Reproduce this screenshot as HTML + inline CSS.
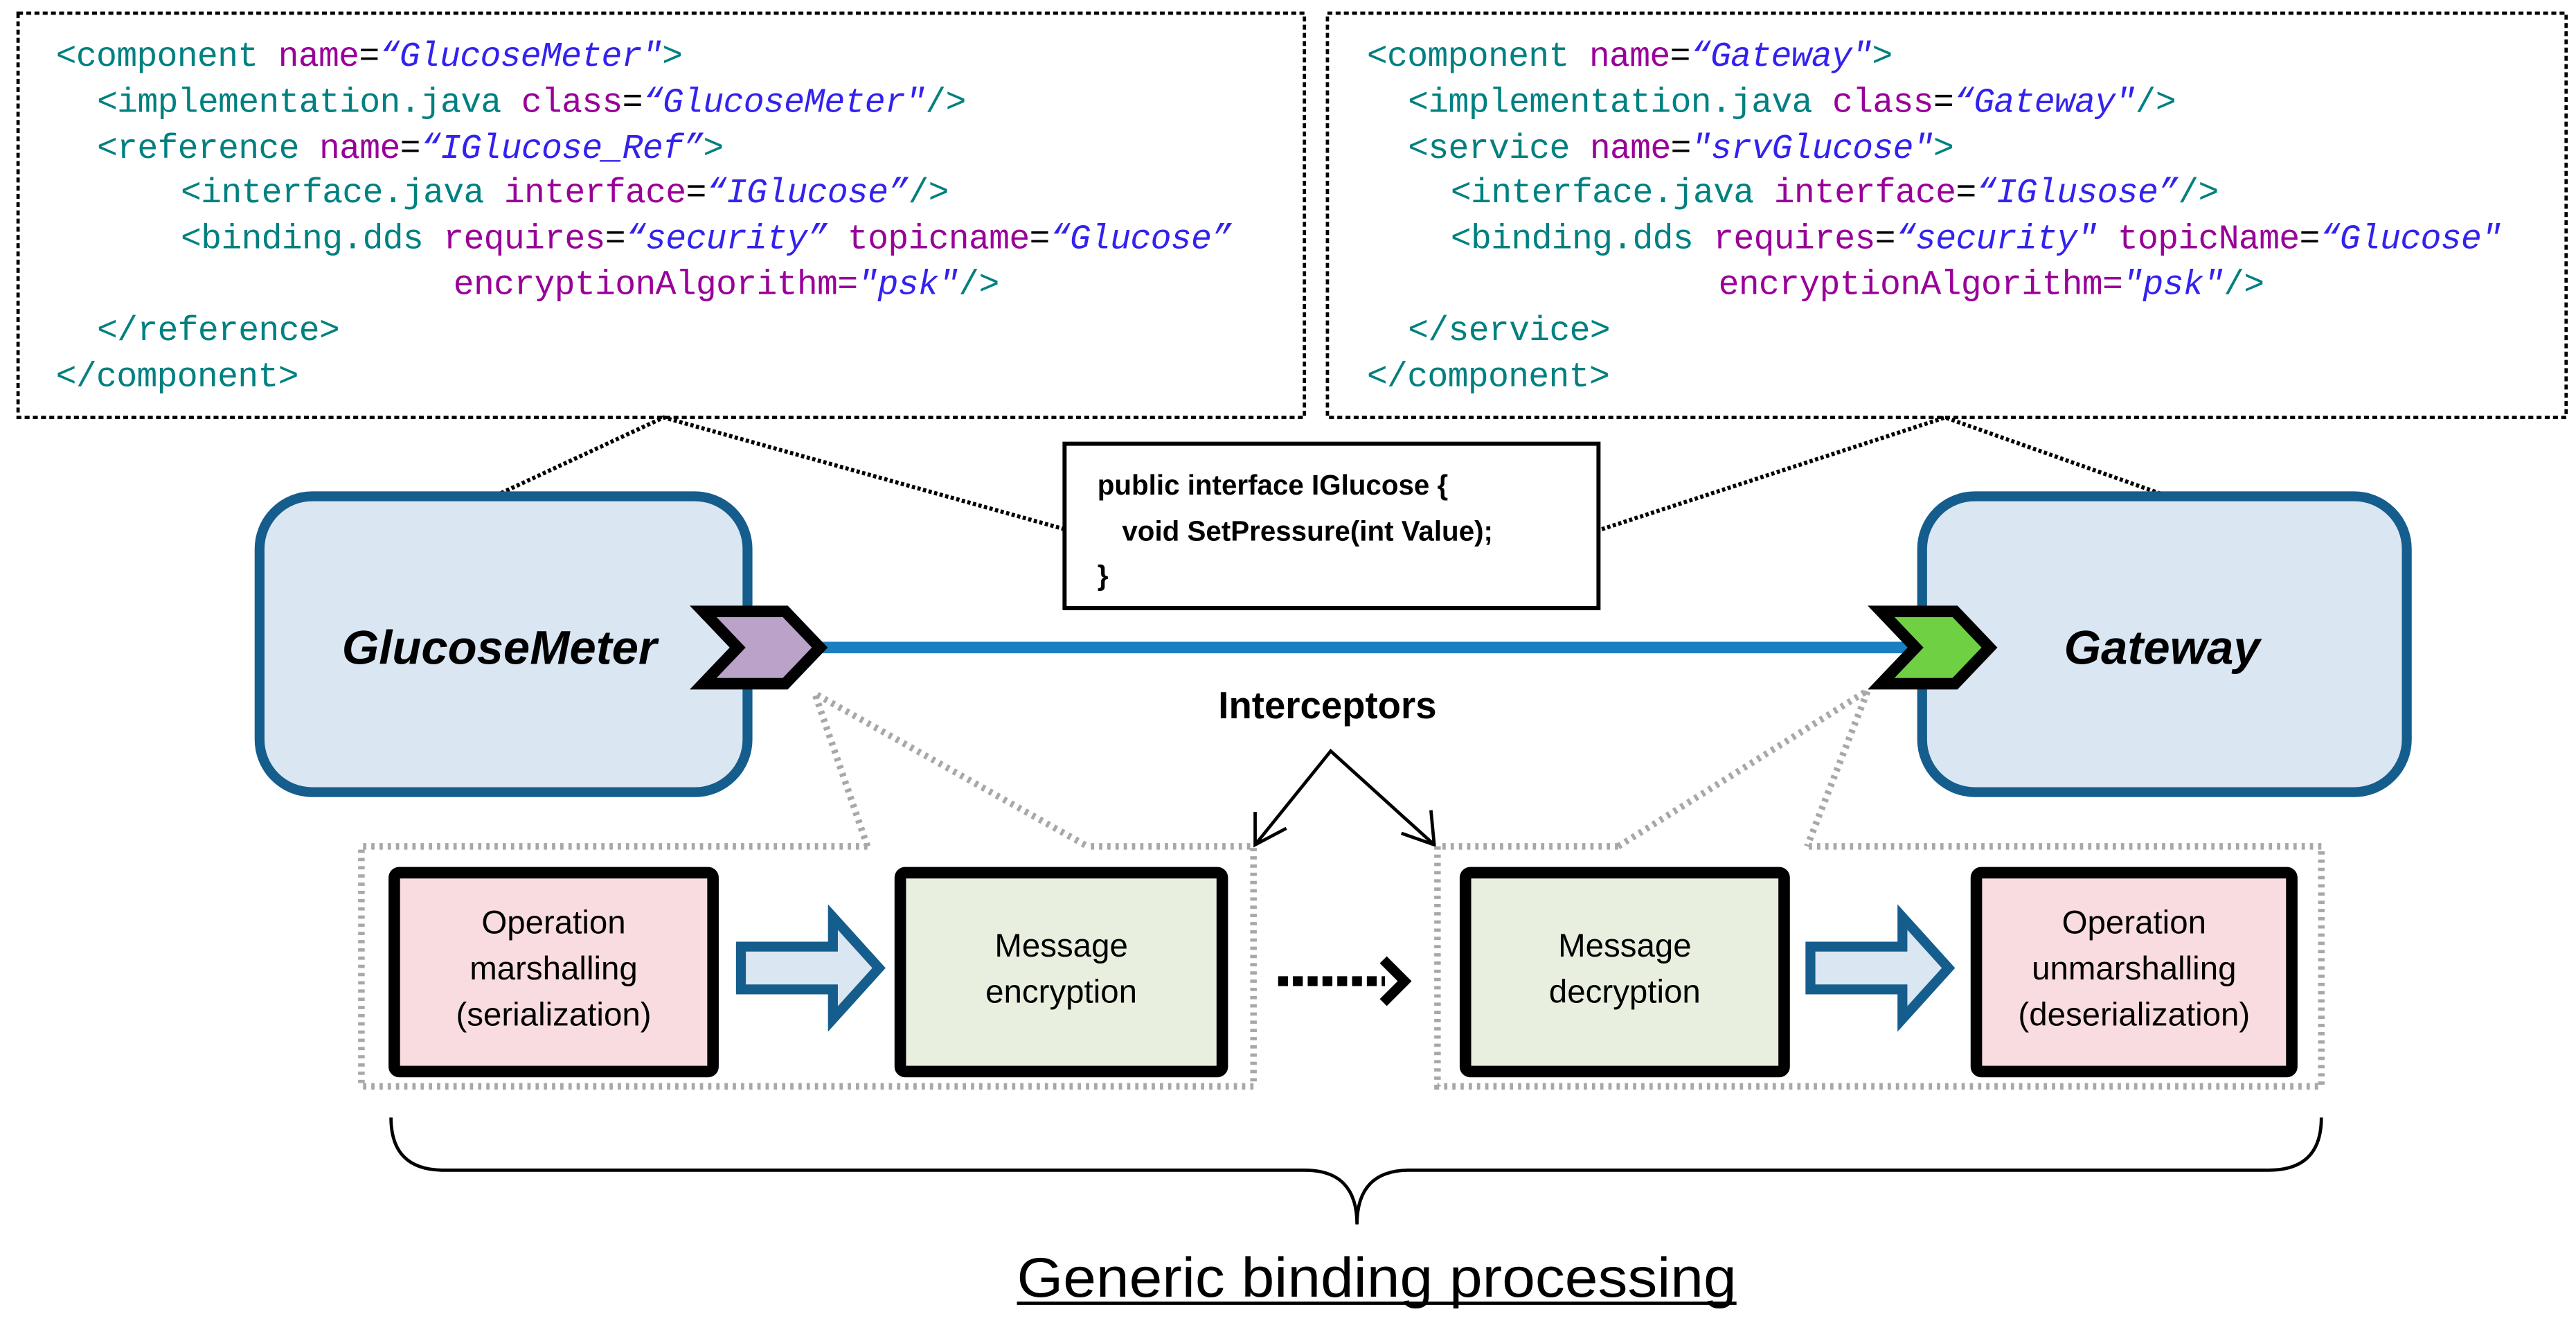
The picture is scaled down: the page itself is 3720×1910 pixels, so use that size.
<!DOCTYPE html>
<html><head><meta charset="utf-8"><style>
html,body{margin:0;padding:0;background:#fff;}
svg{display:block;}
.code{font-family:"Liberation Mono",monospace;font-size:21px;letter-spacing:-0.3px;}
.t{fill:#008080}.a{fill:#990099}.v{fill:#3322ee;font-style:italic}.k{fill:#000}
.lbl{font-family:"Liberation Sans",sans-serif;font-size:20px;fill:#000;text-anchor:middle;}
</style></head><body>
<svg width="3720" height="1910" viewBox="0 0 1568 805" preserveAspectRatio="none" xmlns="http://www.w3.org/2000/svg">
<rect x="0" y="0" width="1568" height="805" fill="#fff"/>
<rect x="11" y="8" width="783" height="246" fill="none" stroke="#000" stroke-width="2" stroke-dasharray="3,2"/>
<rect x="808" y="8" width="754" height="246" fill="none" stroke="#000" stroke-width="2" stroke-dasharray="3,2"/>
<g class="code" xml:space="preserve">
<text x="34" y="40"><tspan class="t">&lt;component </tspan><tspan class="a">name</tspan><tspan class="k">=</tspan><tspan class="v">“GlucoseMeter"</tspan><tspan class="t">&gt;</tspan></text>
<text x="59" y="68"><tspan class="t">&lt;implementation.java </tspan><tspan class="a">class</tspan><tspan class="k">=</tspan><tspan class="v">“GlucoseMeter"</tspan><tspan class="t">/&gt;</tspan></text>
<text x="59" y="96"><tspan class="t">&lt;reference </tspan><tspan class="a">name</tspan><tspan class="k">=</tspan><tspan class="v">“IGlucose_Ref”</tspan><tspan class="t">&gt;</tspan></text>
<text x="110" y="123"><tspan class="t">&lt;interface.java </tspan><tspan class="a">interface</tspan><tspan class="k">=</tspan><tspan class="v">“IGlucose”</tspan><tspan class="t">/&gt;</tspan></text>
<text x="110" y="151"><tspan class="t">&lt;binding.dds </tspan><tspan class="a">requires</tspan><tspan class="k">=</tspan><tspan class="v">“security”</tspan><tspan class="a"> topicname</tspan><tspan class="k">=</tspan><tspan class="v">“Glucose”</tspan></text>
<text x="276" y="179"><tspan class="a">encryptionAlgorithm=</tspan><tspan class="v">"psk"</tspan><tspan class="t">/&gt;</tspan></text>
<text x="59" y="207"><tspan class="t">&lt;/reference&gt;</tspan></text>
<text x="34" y="235"><tspan class="t">&lt;/component&gt;</tspan></text>

<text x="832" y="40"><tspan class="t">&lt;component </tspan><tspan class="a">name</tspan><tspan class="k">=</tspan><tspan class="v">“Gateway"</tspan><tspan class="t">&gt;</tspan></text>
<text x="857" y="68"><tspan class="t">&lt;implementation.java </tspan><tspan class="a">class</tspan><tspan class="k">=</tspan><tspan class="v">“Gateway"</tspan><tspan class="t">/&gt;</tspan></text>
<text x="857" y="96"><tspan class="t">&lt;service </tspan><tspan class="a">name</tspan><tspan class="k">=</tspan><tspan class="v">"srvGlucose"</tspan><tspan class="t">&gt;</tspan></text>
<text x="883" y="123"><tspan class="t">&lt;interface.java </tspan><tspan class="a">interface</tspan><tspan class="k">=</tspan><tspan class="v">“IGlusose”</tspan><tspan class="t">/&gt;</tspan></text>
<text x="883" y="151"><tspan class="t">&lt;binding.dds </tspan><tspan class="a">requires</tspan><tspan class="k">=</tspan><tspan class="v">“security"</tspan><tspan class="a"> topicName</tspan><tspan class="k">=</tspan><tspan class="v">“Glucose"</tspan></text>
<text x="1046" y="179"><tspan class="a">encryptionAlgorithm=</tspan><tspan class="v">"psk"</tspan><tspan class="t">/&gt;</tspan></text>
<text x="857" y="207"><tspan class="t">&lt;/service&gt;</tspan></text>
<text x="832" y="235"><tspan class="t">&lt;/component&gt;</tspan></text>
</g>
<g stroke="#000" stroke-width="2.5" stroke-dasharray="2,1.5" fill="none">
<polyline points="305,300 404,254 648,322"/>
<polyline points="975,322 1184,254 1317,301"/>
</g>
<rect x="648" y="270" width="325" height="100" fill="#fff" stroke="#000" stroke-width="2.5"/>
<g font-family="Liberation Sans, sans-serif" font-weight="bold" font-size="17" fill="#000">
<text x="668" y="301">public interface IGlucose {</text>
<text x="683" y="329">void SetPressure(int Value);</text>
<text x="668" y="356">}</text>
</g>
<rect x="158" y="302" width="297" height="180" rx="32" fill="#dae6f2" stroke="#155d8c" stroke-width="6"/>
<rect x="1170" y="302" width="295" height="180" rx="32" fill="#dae6f2" stroke="#155d8c" stroke-width="6"/>
<g font-family="Liberation Sans, sans-serif" font-weight="bold" font-style="italic" font-size="29" fill="#000" text-anchor="middle">
<text x="304" y="404">GlucoseMeter</text>
<text x="1316" y="404">Gateway</text>
</g>
<line x1="495" y1="394" x2="1165" y2="394" stroke="#1a7fc0" stroke-width="7"/>
<polygon points="428,372 478,372 499,394 478,416 428,416 449,394" fill="#baa2c9" stroke="#000" stroke-width="7" stroke-linejoin="miter"/>
<polygon points="1145,372 1190,372 1211,394 1190,416 1145,416 1166,394" fill="#6fd043" stroke="#000" stroke-width="7" stroke-linejoin="miter"/>
<text x="808" y="437" font-family="Liberation Sans, sans-serif" font-weight="bold" font-size="23" text-anchor="middle">Interceptors</text>
<g stroke="#000" stroke-width="2" fill="none">
<polyline points="764,514 810,457 873,514"/>
<polyline points="764,494 764,514 783,504"/>
<polyline points="853,507 873,514 871,493"/>
</g>
<g stroke="#a8a8a8" stroke-width="4" stroke-dasharray="2,3" fill="none">
<polyline points="528,515 220,515 220,661 763,661 763,515 662,515"/>
<polyline points="528,515 496,422 662,515"/>
<polyline points="985,515 875,515 875,661 1413,661 1413,515 1100,515"/>
<polyline points="985,515 1137,420 1100,515"/>
</g>
<g stroke="#000" stroke-width="7">
<rect x="240" y="531" width="194" height="121" rx="3" fill="#f9dcdf"/>
<rect x="548" y="531" width="196" height="121" rx="3" fill="#e8efdf"/>
<rect x="892" y="531" width="194" height="121" rx="3" fill="#e8efdf"/>
<rect x="1203" y="531" width="192" height="121" rx="3" fill="#f9dcdf"/>
</g>
<text class="lbl" x="337" y="568">Operation</text>
<text class="lbl" x="337" y="596">marshalling</text>
<text class="lbl" x="337" y="624">(serialization)</text>
<text class="lbl" x="646" y="582">Message</text>
<text class="lbl" x="646" y="610">encryption</text>
<text class="lbl" x="989" y="582">Message</text>
<text class="lbl" x="989" y="610">decryption</text>
<text class="lbl" x="1299" y="568">Operation</text>
<text class="lbl" x="1299" y="596">unmarshalling</text>
<text class="lbl" x="1299" y="624">(deserialization)</text>
<polygon points="451,576 507,576 507,558 535,589 507,620 507,602 451,602" fill="#dae6f2" stroke="#155d8c" stroke-width="6"/>
<polygon points="1102,576 1158,576 1158,558 1186,589 1158,620 1158,602 1102,602" fill="#dae6f2" stroke="#155d8c" stroke-width="6"/>
<line x1="778" y1="597" x2="843" y2="597" stroke="#000" stroke-width="6" stroke-dasharray="6,3"/>
<polyline points="842,584 855,597 842,610" fill="none" stroke="#000" stroke-width="6"/>
<path d="M238,680 Q238,712 270,712 L794,712 Q826,712 826,745 Q826,712 858,712 L1381,712 Q1413,712 1413,680" fill="none" stroke="#000" stroke-width="2"/>
<text x="619" y="789" font-family="Liberation Sans, sans-serif" font-size="34" textLength="438" lengthAdjust="spacingAndGlyphs" fill="#000">Generic binding processing</text>
<line x1="619" y1="793" x2="1057" y2="793" stroke="#000" stroke-width="2"/>
</svg>
</body></html>
